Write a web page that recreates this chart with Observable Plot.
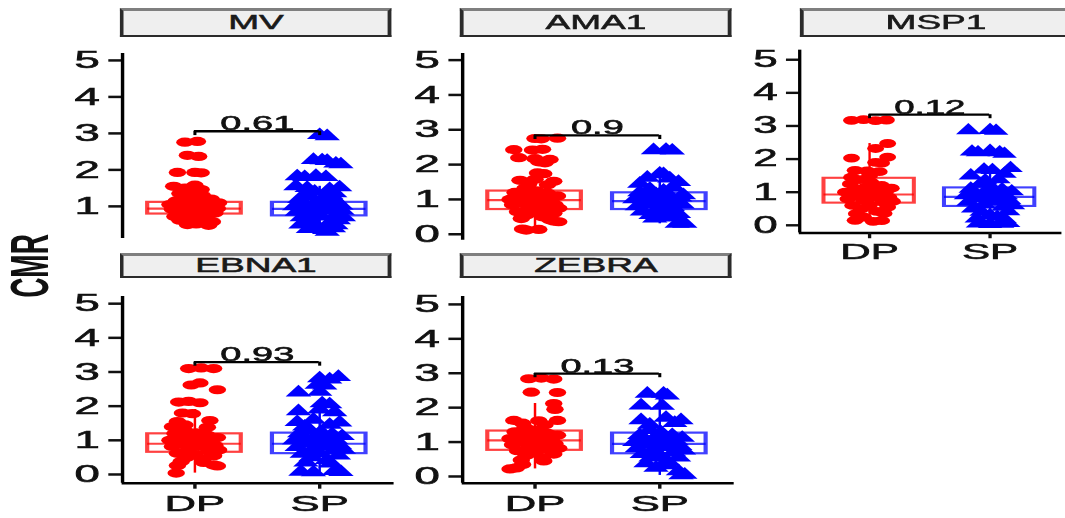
<!DOCTYPE html>
<html>
<head>
<meta charset="utf-8">
<script src="https://cdn.jsdelivr.net/npm/d3@7"></script>
<script src="https://cdn.jsdelivr.net/npm/@observablehq/plot@0.6"></script>
<style>
  html, body { margin: 0; padding: 0; background: #fff; overflow: hidden; }
  #fig { position: absolute; left: 0; top: 0; height: 518px; transform-origin: 0 0;
         font-family: "Liberation Sans", Arial, sans-serif; }
  .strip { position: absolute; box-sizing: border-box; background: #efefef;
           border: 2px solid #2b2b2b; border-top: 3px solid #7f7f7f;
           display: flex; align-items: center; justify-content: center;
           color: #1a1a1a; font-size: 19.5px; -webkit-text-stroke: 0.5px #1a1a1a; }
  .panel { position: absolute; }
  .panel svg { overflow: visible; }
  .panel svg text { stroke: #111; stroke-width: 0.6px; }
</style>
</head>
<body>
<div id="fig"></div>
<script>
// Groups and colours
const groups = ["DP", "SP"];
const groupColors = ["#ff0000", "#0000ff"];

// Per-antigen observations: [jitter offset, CMR]
const mvDP = [[-0.08,2.76],[0.02,2.78],[-0.06,2.40],[0.03,2.37],[-0.14,1.93],[0.0,1.93],[0.05,1.92],[-0.17,1.55],[-0.08,1.50],[0.0,1.58],[0.05,1.46],[-0.12,1.35],[-0.02,1.33],[0.06,1.30],
  [-0.2,1.05],[-0.18,0.92],[-0.15,1.15],[-0.13,0.80],[-0.11,0.98],[-0.1,1.22],[-0.08,0.70],[-0.07,0.88],[-0.05,1.08],[-0.04,0.60],[-0.03,0.95],[-0.01,1.18],[0.0,0.78],[0.01,0.52],[0.02,1.02],[0.04,0.85],[0.05,1.25],[0.06,0.66],[0.08,0.97],[0.09,1.12],[0.1,0.75],[0.12,0.90],[0.13,1.20],[0.14,0.58],[0.15,1.03],[0.16,0.82],[0.18,0.94],[0.19,1.10],[-0.16,0.72],[-0.12,0.62],[0.11,0.48],[-0.06,0.50]];
const mvSP = [[0.0,2.95],[0.06,2.92],[-0.05,2.27],[0.02,2.26],[0.06,2.24],[0.13,2.17],[0.17,2.15],[-0.18,1.82],[-0.12,1.80],[-0.03,1.83],[0.05,1.80],[-0.19,1.55],[-0.1,1.50],[0.08,1.47],[0.16,1.52],[-0.04,1.40],[0.12,1.36],
  [-0.2,1.0],[-0.18,0.85],[-0.16,1.2],[-0.14,0.7],[-0.12,1.05],[-0.1,0.92],[-0.08,1.28],[-0.07,0.6],[-0.05,0.8],[-0.03,1.12],[-0.02,0.45],[0.0,0.98],[0.01,0.72],[0.03,1.22],[0.04,0.35],[0.05,0.88],[0.07,1.08],[0.08,0.55],[0.1,0.95],[0.11,0.4],[0.12,1.18],[0.14,0.78],[0.15,0.62],[0.17,1.02],[0.18,0.88],[0.19,0.7],[-0.15,0.5],[-0.09,0.38],[0.06,0.3],[0.13,0.48],[-0.11,1.32],[0.09,1.3]];

const ama1DP = [[0.0,2.75],[0.05,2.74],[0.18,2.76],[-0.17,2.43],[-0.02,2.42],[0.06,2.44],[-0.13,2.2],[0.0,2.17],[0.12,2.15],[0.03,2.08],[0.08,2.05],[0.02,1.76],[0.07,1.74],[-0.12,1.55],[0.0,1.58],[0.15,1.52],[-0.05,1.45],[0.1,1.42],
  [-0.2,1.0],[-0.18,0.85],[-0.16,1.2],[-0.14,0.65],[-0.12,1.1],[-0.1,0.9],[-0.08,1.32],[-0.07,0.55],[-0.05,0.78],[-0.03,1.15],[-0.02,0.95],[0.0,0.62],[0.01,1.25],[0.03,0.82],[0.05,1.05],[0.06,0.5],[0.08,0.92],[0.1,1.18],[0.11,0.7],[0.13,1.0],[0.15,0.6],[0.16,0.85],[0.18,1.1],[0.19,0.75],[-0.11,0.45],[0.12,0.42],
  [0.15,0.38],[0.19,0.36],[-0.1,0.15],[0.03,0.14],[-0.07,0.12]];
const ama1SP = [[-0.05,2.41],[0.05,2.42],[0.1,2.4],[0.0,1.74],[0.03,1.72],[-0.1,1.62],[0.08,1.6],[0.15,1.5],[-0.16,1.45],
  [-0.2,1.0],[-0.18,0.8],[-0.16,1.2],[-0.14,0.65],[-0.12,1.08],[-0.1,0.92],[-0.08,1.3],[-0.07,0.55],[-0.05,0.85],[-0.03,1.15],[-0.02,0.7],[0.0,1.0],[0.01,0.5],[0.03,1.25],[0.05,0.88],[0.06,0.62],[0.08,1.1],[0.1,0.78],[0.11,1.35],[0.13,0.95],[0.15,0.58],[0.16,1.05],[0.18,0.85],[0.19,1.12],[-0.04,0.45],[0.07,0.48],
  [0.14,0.3],[0.18,0.32],[0.2,0.3]];

const msp1DP = [[-0.15,3.17],[-0.05,3.19],[0.05,3.16],[0.14,3.18],[0.15,2.47],[0.05,2.32],[0.15,2.06],[-0.15,2.03],[0.05,1.9],[0.1,1.88],[-0.12,1.66],[-0.02,1.64],[0.08,1.62],[0.0,1.5],[-0.15,1.45],
  [-0.2,1.0],[-0.18,0.8],[-0.16,1.25],[-0.14,0.6],[-0.12,1.1],[-0.1,0.9],[-0.08,1.38],[-0.07,0.5],[-0.05,0.75],[-0.03,1.15],[-0.02,0.95],[0.0,0.62],[0.01,1.3],[0.03,0.85],[0.05,1.05],[0.06,0.42],[0.08,0.92],[0.1,1.2],[0.11,0.7],[0.13,1.0],[0.15,0.55],[0.16,0.85],[0.18,1.12],[0.19,0.72],[-0.11,0.35],[0.12,0.36],
  [-0.12,0.15],[0.03,0.12],[0.1,0.14],[-0.05,0.25]];
const msp1SP = [[-0.18,2.86],[0.0,2.87],[0.05,2.85],[-0.15,2.22],[-0.1,2.2],[0.0,2.24],[0.08,2.2],[0.12,2.15],[0.17,1.72],[-0.05,1.68],[0.02,1.66],[0.12,1.55],[-0.16,1.5],
  [-0.2,0.9],[-0.18,0.7],[-0.16,1.1],[-0.14,0.5],[-0.12,0.95],[-0.1,0.8],[-0.08,1.25],[-0.07,0.4],[-0.05,0.62],[-0.03,1.05],[-0.02,0.85],[0.0,0.3],[0.01,1.15],[0.03,0.72],[0.05,0.95],[0.06,0.25],[0.08,0.82],[0.1,1.08],[0.11,0.55],[0.13,0.9],[0.15,0.42],[0.16,0.75],[0.18,1.02],[0.19,0.6],[-0.11,0.2],[0.12,0.18],[-0.04,1.35],[0.07,1.38],
  [-0.1,0.05],[0.0,0.03],[0.1,0.04],[0.15,0.06]];

const ebna1DP = [[-0.05,3.1],[0.05,3.12],[0.15,3.1],[-0.03,2.62],[0.04,2.68],[0.18,2.48],[-0.13,2.12],[-0.05,2.14],[0.04,2.1],[-0.1,1.8],[-0.02,1.78],[0.12,1.58],[-0.14,1.55],[-0.18,1.4],[0.1,1.38],[-0.08,1.45],
  [-0.2,1.0],[-0.18,0.82],[-0.16,1.2],[-0.14,0.62],[-0.12,1.08],[-0.1,0.9],[-0.08,1.28],[-0.07,0.5],[-0.05,0.75],[-0.03,1.12],[-0.02,0.95],[0.0,0.58],[0.01,1.22],[0.03,0.82],[0.05,1.02],[0.06,0.45],[0.08,0.9],[0.1,1.15],[0.11,0.68],[0.13,0.98],[0.15,0.55],[0.16,0.85],[0.18,1.08],[0.19,0.72],[-0.11,0.38],[0.07,0.35],
  [-0.14,0.26],[0.15,0.28],[0.18,0.25],[-0.15,0.04]];
const ebna1SP = [[0.0,2.81],[0.08,2.78],[0.15,2.85],[-0.02,2.62],[0.04,2.6],[-0.17,2.4],[0.0,2.42],[0.02,2.08],[0.08,2.05],[-0.17,1.85],[0.12,1.82],[0.0,1.9],[-0.18,1.53],[0.16,1.52],[-0.05,1.6],[0.08,1.45],[-0.12,1.4],
  [-0.2,1.0],[-0.18,0.8],[-0.16,1.2],[-0.14,0.6],[-0.12,1.08],[-0.1,0.9],[-0.08,1.3],[-0.07,0.5],[-0.05,0.75],[-0.03,1.12],[-0.02,0.95],[0.0,0.62],[0.01,1.25],[0.03,0.82],[0.05,1.05],[0.06,0.42],[0.08,0.92],[0.1,1.18],[0.11,0.7],[0.13,1.0],[0.15,0.55],[0.16,0.85],[0.18,1.12],[0.19,0.72],[-0.11,0.35],[0.09,0.32],
  [-0.15,0.08],[-0.05,0.06],[0.12,0.1],[0.17,0.07]];

const zebraDP = [[-0.05,2.84],[0.05,2.86],[0.15,2.83],[-0.03,2.45],[0.18,2.44],[0.15,2.12],[0.16,1.95],[-0.17,1.63],[0.03,1.62],[0.18,1.63],[-0.1,1.55],[0.08,1.5],
  [-0.2,1.1],[-0.18,0.92],[-0.16,1.3],[-0.14,0.75],[-0.12,1.18],[-0.1,1.0],[-0.08,1.42],[-0.07,0.62],[-0.05,0.85],[-0.03,1.22],[-0.02,1.05],[0.0,0.7],[0.01,1.35],[0.03,0.9],[0.05,1.12],[0.06,0.55],[0.08,1.0],[0.1,1.25],[0.11,0.78],[0.13,1.08],[0.15,0.65],[0.16,0.95],[0.18,1.2],[0.19,0.82],[-0.11,0.48],[0.07,0.45],
  [-0.1,0.35],[-0.2,0.22],[-0.15,0.25]];
const zebraSP = [[-0.1,2.4],[0.03,2.4],[0.06,2.35],[-0.15,2.06],[0.02,2.05],[-0.15,1.63],[0.17,1.63],[0.05,1.7],[0.12,1.55],[-0.08,1.5],
  [-0.2,1.0],[-0.18,0.82],[-0.16,1.2],[-0.14,0.65],[-0.12,1.08],[-0.1,0.92],[-0.08,1.35],[-0.07,0.55],[-0.05,0.78],[-0.03,1.15],[-0.02,0.98],[0.0,0.6],[0.01,1.28],[0.03,0.85],[0.05,1.05],[0.06,0.45],[0.08,0.92],[0.1,1.2],[0.11,0.7],[0.13,1.02],[0.15,0.55],[0.16,0.88],[0.18,1.12],[0.19,0.75],[-0.11,0.38],[0.07,0.32],
  [0.15,0.15],[0.2,0.05],[0.17,0.03],[-0.03,0.25]];

// Box statistics per group: [lower whisker, Q1, median, Q3, upper whisker]
const mvBox    = [[0.48,0.79,0.94,1.11,1.58], [0.30,0.74,0.93,1.11,1.55]];
const ama1Box  = [[0.12,0.71,0.98,1.24,1.76], [0.30,0.71,0.95,1.19,1.74]];
const msp1Box  = [[0.12,0.67,0.93,1.42,2.47], [0.03,0.57,0.86,1.13,1.72]];
const ebna1Box = [[0.04,0.65,0.90,1.19,1.90], [0.06,0.61,0.90,1.21,2.08]];
const zebraBox = [[0.22,0.76,1.05,1.32,2.12], [0.03,0.66,0.95,1.26,2.40]];

// Comparison p-values and bracket heights (CMR units)
const pLabels   = ["0.61", "0.9", "0.12", "0.93", "0.13"];
const pBrackets = [3.06, 2.84, 3.34, 3.29, 2.99];

// Y tick labels
const ticksMV = [1, 2, 3, 4, 5];
const ticksAll = [0, 1, 2, 3, 4, 5];

// Page geometry: the figure is drawn narrow and widened horizontally
const S = 1.9;
const fig = document.getElementById("fig");
fig.style.width = (1065 / S) + "px";
fig.style.transform = `scaleX(${S})`;

const PW = 272 / S;             // panel plot width
const FONT = "'Liberation Sans', Arial, sans-serif";

function strip(label, xLeft, top, h) {
  const d = document.createElement("div");
  d.className = "strip";
  d.style.left = (xLeft / S) + "px";
  d.style.top = top + "px";
  d.style.width = (272 / S) + "px";
  d.style.height = h + "px";
  d.textContent = label;
  fig.appendChild(d);
}

function panel(o) {
  const mL = 46, mR = 2, mT = 10, mB = o.xAxis ? 42 : 4;
  const plotH = o.bottom - o.top;
  const boxes = o.box.map((b, i) => ({g: groups[i], x: i + 1, lo: b[0], q1: b[1], med: b[2], q3: b[3], hi: b[4]}));
  const marks = [];
  groups.forEach((g, i) => {
    const col = groupColors[i];
    const bx = [boxes[i]];
    marks.push(
      Plot.ruleX(bx, {x: "x", y1: "q3", y2: "hi", stroke: col, strokeWidth: 1.3}),
      Plot.ruleX(bx, {x: "x", y1: "lo", y2: "q1", stroke: col, strokeWidth: 1.3}),
      Plot.rect(bx, {x1: d => d.x - 0.375, x2: d => d.x + 0.375, y1: "q1", y2: "q3",
                     fill: "white", stroke: col, strokeOpacity: 0.75, strokeWidth: 2.2}),
      Plot.ruleY(bx, {y: "med", x1: d => d.x - 0.375, x2: d => d.x + 0.375,
                      stroke: col, strokeOpacity: 0.75, strokeWidth: 2.2})
    );
  });
  groups.forEach((g, i) => {
    const pts = (i === 0 ? o.dp : o.sp).map(([j, v]) => ({x: i + 1 + j, y: v}));
    marks.push(Plot.dot(pts, {x: "x", y: "y", r: i === 0 ? 4.6 : 5, fill: groupColors[i], stroke: null,
                              symbol: i === 0 ? "circle" : "triangle"}));
  });
  // comparison bracket with p-value
  const b = [o.bracket];
  marks.push(
    Plot.ruleY(b, {y: d => d, x1: 1, x2: 2, stroke: "black", strokeWidth: 2.4}),
    Plot.ruleX([1, 2], {x: d => d, y1: o.bracket, y2: o.bracket - 0.12, stroke: "black", strokeWidth: 1.6}),
    Plot.text([o.p], {x: 1.5, y: o.bracket, text: d => d, lineAnchor: "bottom", dy: -1,
                      fontSize: 20, fill: "#111"})
  );
  // axes
  marks.push(
    Plot.axisY({ticks: o.ticks, tickSize: 7, tickPadding: 5, fontSize: 24, strokeWidth: 2.5,
                tickFormat: d => String(d), fill: "#111", label: null}),
    Plot.ruleX([0.42], {stroke: "black", strokeWidth: 1.8})
  );
  if (o.xAxis) {
    marks.push(
      Plot.ruleY([o.domain[0]], {stroke: "black", strokeWidth: 2.6}),
      Plot.axisX({ticks: [1, 2], tickFormat: d => groups[d - 1], tickSize: 6, tickPadding: 5,
                  fontSize: 23, strokeWidth: 1.8, fill: "#111", label: null})
    );
  }
  const chart = Plot.plot({
    width: PW + mL + mR,
    height: plotH + mT + mB,
    marginLeft: mL, marginRight: mR, marginTop: mT, marginBottom: mB,
    x: {type: "linear", domain: [0.42, 2.6], axis: null, label: null},
    y: {domain: o.domain, axis: null, label: null},
    style: {fontFamily: FONT, background: "transparent", color: "#111"},
    marks
  });
  const wrap = document.createElement("div");
  wrap.className = "panel";
  wrap.style.left = (o.left / S - mL) + "px";
  wrap.style.top = (o.top - mT) + "px";
  wrap.appendChild(chart);
  fig.appendChild(wrap);
}

// column left edges (page px) and row extents
const colX = [121.5, 461.3, 801.7];

panel({dp: mvDP, sp: mvSP, box: mvBox, p: pLabels[0], bracket: pBrackets[0],
       domain: [0.12, 5.19], ticks: ticksMV, left: colX[0], top: 53.3, bottom: 238.3, xAxis: false});
panel({dp: ama1DP, sp: ama1SP, box: ama1Box, p: pLabels[1], bracket: pBrackets[1],
       domain: [-0.17, 5.19], ticks: ticksAll, left: colX[1], top: 53.3, bottom: 240, xAxis: false});
panel({dp: msp1DP, sp: msp1SP, box: msp1Box, p: pLabels[2], bracket: pBrackets[2],
       domain: [-0.23, 5.29], ticks: ticksAll, left: colX[2], top: 50, bottom: 239.3, xAxis: true});
panel({dp: ebna1DP, sp: ebna1SP, box: ebna1Box, p: pLabels[3], bracket: pBrackets[3],
       domain: [-0.255, 5.21], ticks: ticksAll, left: colX[0], top: 296, bottom: 482.7, xAxis: true});
panel({dp: zebraDP, sp: zebraSP, box: zebraBox, p: pLabels[4], bracket: pBrackets[4],
       domain: [-0.195, 5.23], ticks: ticksAll, left: colX[1], top: 296, bottom: 482.7, xAxis: true});

strip("MV",    120, 7.5, 29.5);
strip("AMA1",  460, 7.5, 29.5);
strip("MSP1",  800, 7.5, 29.5);
strip("EBNA1", 120, 252.5, 25);
strip("ZEBRA", 460, 252.5, 25);

// shared y-axis title
const yTitle = d3.create("svg").attr("width", 40).attr("height", 518)
  .style("position", "absolute").style("left", "0px").style("top", "0px");
yTitle.append("text")
  .attr("transform", "translate(25,266) rotate(-90)")
  .attr("text-anchor", "middle")
  .attr("font-family", FONT).attr("font-weight", "bold").attr("font-size", 28)
  .attr("fill", "#111")
  .text("CMR");
fig.appendChild(yTitle.node());
</script>
</body>
</html>
